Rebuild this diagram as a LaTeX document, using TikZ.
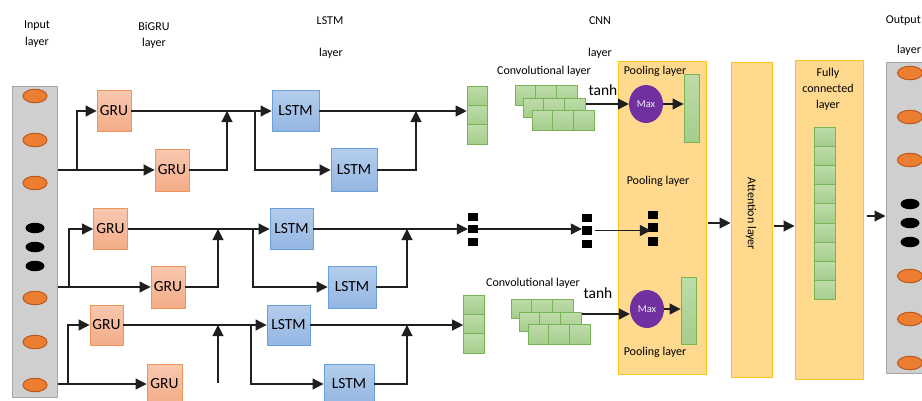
\documentclass[tikz,border=0pt]{standalone}
\usepackage{fontspec}
\setmainfont{Carlito}
\usetikzlibrary{arrows.meta,shapes.geometric}

\definecolor{gruTop}{HTML}{F8C8B0}
\definecolor{gruBot}{HTML}{F4AC88}
\definecolor{gruEdge}{HTML}{F0955A}
\definecolor{lstmTop}{HTML}{B4CDEC}
\definecolor{lstmBot}{HTML}{93B6E2}
\definecolor{lstmEdge}{HTML}{6A9FD8}
\definecolor{cellTop}{HTML}{BEDCAA}
\definecolor{cellBot}{HTML}{A5CD8B}
\definecolor{cellEdge}{HTML}{78B455}
\definecolor{dotFill}{HTML}{ED7D31}
\definecolor{dotEdge}{HTML}{B85A1E}
\definecolor{panelFill}{HTML}{CFCFCF}
\definecolor{panelEdge}{HTML}{A6A6A6}
\definecolor{stageFill}{HTML}{FFD98E}
\definecolor{stageEdge}{HTML}{FFC31A}
\definecolor{maxFill}{HTML}{7030A0}

\tikzset{
  ln/.style={line width=1.1pt, draw=black!88},
  arr/.style={ln, -{Triangle[length=11pt,width=11pt]}},
  boxtext/.style={font=\fontsize{15.5}{16}\selectfont, inner sep=0pt},
  gru/.style={boxtext, rectangle, draw=gruEdge, line width=0.9pt, top color=gruTop, bottom color=gruBot},
  lstm/.style={boxtext, rectangle, draw=lstmEdge, line width=0.9pt, top color=lstmTop, bottom color=lstmBot},
  cell/.style={rectangle, draw=cellEdge, line width=0.9pt, top color=cellTop, bottom color=cellBot,
               minimum width=20.7pt, minimum height=19.3pt, inner sep=0pt},
  sq/.style={rectangle, fill=black, minimum width=10pt, minimum height=8.5pt, inner sep=0pt},
  dot/.style={ellipse, fill=dotFill, draw=dotEdge, line width=1pt, minimum width=24pt, minimum height=13.5pt, inner sep=0pt},
  bdot/.style={ellipse, fill=black, minimum width=19pt, minimum height=10.5pt, inner sep=0pt},
  panel/.style={rectangle, fill=panelFill, draw=panelEdge, line width=1pt, inner sep=0pt},
  stage/.style={rectangle, fill=stageFill, draw=stageEdge, line width=1pt, inner sep=0pt},
  maxc/.style={ellipse, fill=maxFill, text=white!90!maxFill, font=\fontsize{10.5}{12}\selectfont,
               minimum width=34pt, minimum height=38pt, inner sep=0pt},
  lbl/.style={font=\fontsize{12}{14}\selectfont, inner sep=0pt},
  big/.style={font=\fontsize{15.5}{16}\selectfont, inner sep=0pt},
}

\begin{document}
\begin{tikzpicture}[x=1pt,y=-1pt]
\useasboundingbox (0,0) rectangle (922,400);
\clip (0,0) rectangle (922,400);

% ---------- column headings ----------
\node[lbl] (hin1) at (37,26) {Input};
\node[lbl] (hin2) at (37,42) {layer};
\node[lbl] (hgr1) at (154,26) {BiGRU};
\node[lbl] (hgr2) at (154,43) {layer};
\node[lbl] (hls1) at (330,21) {LSTM};
\node[lbl] (hls2) at (331,53) {layer};
\node[lbl] (hcn1) at (600,21) {CNN};
\node[lbl] (hcn2) at (600,53) {layer};
\node[lbl,anchor=east] (hou1) at (921,21) {Output};
\node[lbl,anchor=west] (hou2) at (897,50) {layer};

% ---------- input and output panels ----------
\node[panel, minimum width=45pt, minimum height=311pt] (inp) at (34.5,241.5) {};
\foreach \y [count=\i] in {96,140,183,298,342,385}
  \node[dot] (in\i) at (35,\y) {};
\foreach \y [count=\i] in {228,247,266}
  \node[bdot] (ib\i) at (35,\y) {};

\node[panel, minimum width=49pt, minimum height=311pt] (out) at (910.5,217.5) {};
\foreach \y [count=\i] in {73,117,160,276,319,363}
  \node[dot, minimum width=25pt] (on\i) at (910,\y) {};
\foreach \y [count=\i] in {204,223,242}
  \node[bdot] (ob\i) at (910,\y) {};

% ---------- stage boxes ----------
\node[stage, minimum width=88pt, minimum height=313pt] (pool) at (662,217.5) {};
\node[stage, minimum width=41pt, minimum height=315pt] (att) at (751.5,219.5) {};
\node[stage, minimum width=68pt, minimum height=319pt] (fc) at (829,219.5) {};

\node[lbl, rotate=-90] (attlbl) at (751,214) {Attention layer};
\node[lbl, align=center, font=\fontsize{12}{16}\selectfont] (fclbl) at (828,89) {Fully\\connected\\layer};
\node[lbl] (pl1) at (655,71) {Pooling layer};
\node[lbl] (pl2) at (658,181) {Pooling layer};
\node[lbl] (pl3) at (655,352) {Pooling layer};

% fully connected vector
\foreach \k in {0,...,8}
  \node[cell, minimum width=21pt, minimum height=19.2pt] (fc\k) at (824.5,{136.6+19.2*\k}) {};

% ---------- BiGRU layer ----------
\node[gru, minimum width=34pt, minimum height=41pt] (g1t) at (114,111) {GRU};
\node[gru, minimum width=34pt, minimum height=42pt] (g1b) at (172,170) {GRU};
\node[gru, minimum width=34pt, minimum height=41pt] (g2t) at (110.5,229) {GRU};
\node[gru, minimum width=34pt, minimum height=42pt] (g2b) at (168,287) {GRU};
\node[gru, minimum width=33pt, minimum height=40pt] (g3t) at (106.5,325) {GRU};
\node[gru, minimum width=35pt, minimum height=40pt] (g3b) at (164.5,384) {GRU};

% ---------- LSTM layer ----------
\node[lstm, minimum width=47pt, minimum height=41pt] (l1t) at (295.5,111) {LSTM};
\node[lstm, minimum width=46pt, minimum height=43pt] (l1b) at (354,170) {LSTM};
\node[lstm, minimum width=43pt, minimum height=41pt] (l2t) at (291.5,229) {LSTM};
\node[lstm, minimum width=48pt, minimum height=42pt] (l2b) at (352,287) {LSTM};
\node[lstm, minimum width=43pt, minimum height=40pt] (l3t) at (288.5,325) {LSTM};
\node[lstm, minimum width=50pt, minimum height=40pt] (l3b) at (349,384) {LSTM};

% ---------- feature vectors ----------
\foreach \k in {1,2,3}
  \node[cell] (c1-\k) at (477.5,{76.4+19.3*\k}) {};
\foreach \k in {1,2,3}
  \node[cell] (c3-\k) at (474,{285.4+19.3*\k}) {};

% black squares of the middle branch
\foreach \y [count=\k] in {217,229,242}
  \node[sq] (sa\k) at (473,\y) {};
\foreach \y [count=\k] in {218,230.5,244}
  \node[sq] (sb\k) at (587,\y) {};
\foreach \y [count=\k] in {215,227.5,241.5}
  \node[sq] (sc\k) at (653,\y) {};

% ---------- convolution blocks ----------
\node[lbl] (cl1) at (544,71) {Convolutional layer};
\node[lbl] (cl3) at (533,283) {Convolutional layer};
\foreach \r/\x/\y in {a/515/95.5, b/523/108, c/532/120.5}
  \foreach \i in {1,2,3}
    \node[cell] (cv1-\r\i) at ({\x+20.7*\i-10.35},\y) {};
\foreach \r/\x/\y in {a/511/309, b/519/322, c/528/334.5}
  \foreach \i in {1,2,3}
    \node[cell] (cv3-\r\i) at ({\x+20.7*\i-10.35},\y) {};

\node[big] (th1) at (603,90) {tanh};
\node[big] (th3) at (598,293) {tanh};

% ---------- max pooling ----------
\node[maxc] (mx1) at (646,104) {Max};
\node[maxc] (mx3) at (647,309) {Max};
\node[cell, minimum width=15pt, minimum height=68pt] (bar1) at (691.5,108) {};
\node[cell, minimum width=15pt, minimum height=67pt] (bar3) at (688.5,310.5) {};

% ---------- branch and merge points ----------
\coordinate (b1) at (77,170);
\coordinate (m1) at (227,111);
\coordinate (lb1) at (255,111);
\coordinate (lm1) at (416,111);
\coordinate (b2) at (69,287);
\coordinate (m2) at (218,229);
\coordinate (lb2) at (253,229);
\coordinate (lm2) at (407,229);
\coordinate (b3) at (68,384);
\coordinate (v3) at (218,383);
\coordinate (m3) at (218,325);
\coordinate (lb3) at (251,325);
\coordinate (lm3) at (407,325);

% ---------- connectors: row 1 ----------
\draw[arr] (inp.east |- g1b) -- (g1b);
\draw[arr] (b1) |- (g1t);
\draw[arr] (g1t) -- (l1t);
\draw[arr] (g1b) -| (m1);
\draw[arr] (lb1) |- (l1b);
\draw[arr] (l1b) -| (lm1);
\draw[arr] (l1t) -- (l1t -| c1-2.west);

% ---------- connectors: row 2 ----------
\draw[arr] (inp.east |- g2b) -- (g2b);
\draw[arr] (b2) |- (g2t);
\draw[arr] (g2t) -- (l2t);
\draw[arr] (g2b) -| (m2);
\draw[arr] (lb2) |- (l2b);
\draw[arr] (l2b) -| (lm2);
\draw[arr] (l2t) -- (l2t -| sa2.west);
\draw[arr] (sa2.east) -- (sa2.east -| sb2.west);
\draw[arr] ([xshift=3pt]sb2.east) -- ([xshift=3pt]sb2.east -| sc2.west);

% ---------- connectors: row 3 ----------
\draw[arr] (inp.east |- g3b) -- (g3b);
\draw[arr] (b3) |- (g3t);
\draw[arr] (g3t) -- (l3t);
\draw[arr] (v3) -- (m3);
\draw[arr] (lb3) |- (l3b);
\draw[arr] (l3b) -| (lm3);
\draw[arr] (l3t) -- (l3t -| c3-2.west);

% ---------- convolution to pooling ----------
\draw[arr] (cv1-b3.east |- mx1) -- (mx1);
\draw[arr] (mx1) -- (mx1 -| bar1.west);
\draw[arr] ([yshift=8pt]cv3-b3.east) -- ([yshift=8pt]cv3-b3.east -| mx3.west);
\draw[arr] (mx3) -- (mx3 -| bar3.west);

% ---------- stage to stage ----------
\draw[arr] ([xshift=1pt,yshift=-5.5pt]pool.east) -- ([yshift=-5.5pt]pool.east -| att.west);
\draw[arr] ([xshift=1pt,yshift=-6.5pt]att.east) -- ([yshift=-6.5pt]att.east -| fc.west);
\draw[arr] ([xshift=3pt,yshift=3.5pt]fc.east) -- ([yshift=3.5pt]fc.east -| out.west);

\end{tikzpicture}
\end{document}
